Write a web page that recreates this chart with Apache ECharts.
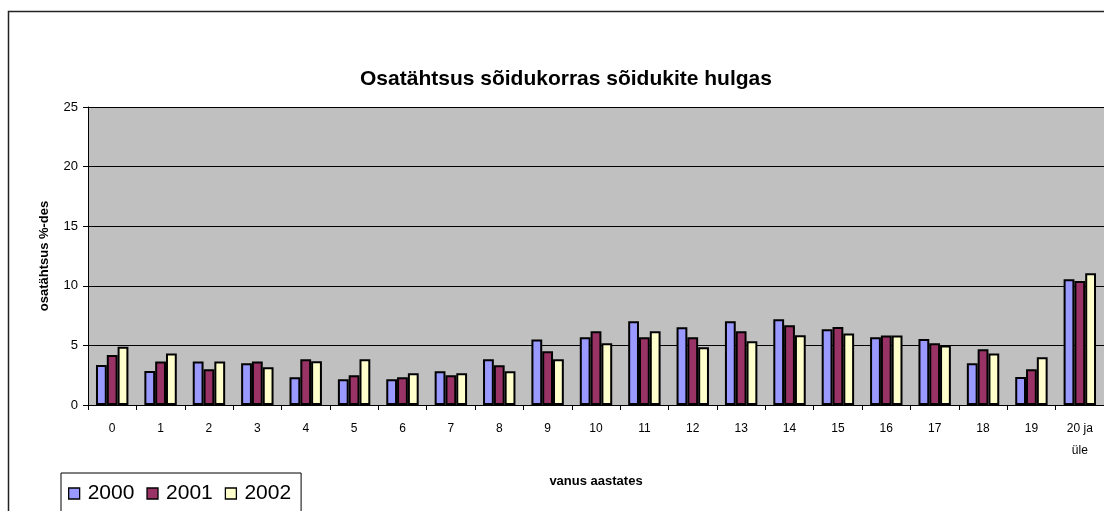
<!DOCTYPE html>
<html>
<head>
<meta charset="utf-8">
<script src="https://cdn.jsdelivr.net/npm/echarts@6/dist/echarts.min.js"></script>
<style>
html,body{margin:0;padding:0;background:#fff;}
#c{width:1104px;height:511px;}
</style>
</head>
<body>
<div id="c"></div>
<script>
const categories = ['0','1','2','3','4','5','6','7','8','9','10','11','12','13','14','15','16','17','18','19','20 ja\nüle'];
const years = ['2000','2001','2002'];
const s2000 = [3.35, 2.85, 3.65, 3.5, 2.33, 2.15, 2.15, 2.83, 3.83, 5.5, 5.68, 7.02, 6.52, 7.02, 7.2, 6.35, 5.68, 5.53, 3.5, 2.35, 10.55];
const s2001 = [4.2, 3.65, 3.0, 3.65, 3.83, 2.5, 2.33, 2.5, 3.33, 4.5, 6.18, 5.68, 5.68, 6.18, 6.68, 6.54, 5.84, 5.17, 4.67, 3.0, 10.4];
const s2002 = [4.88, 4.33, 3.65, 3.16, 3.66, 3.83, 2.66, 2.66, 2.83, 3.83, 5.17, 6.18, 4.84, 5.34, 5.85, 6.0, 5.84, 5.0, 4.33, 4.0, 11.05];
const yTicks = [0, 5, 10, 15, 20, 25];
const colors = ['#9999FF', '#993366', '#FFFFCC'];
const FONT = 'Liberation Sans, Arial, sans-serif';

const chart = echarts.init(document.getElementById('c'), null, {renderer: 'canvas'});
const seriesData = [s2000, s2001, s2002];

chart.setOption({
  animation: false,
  backgroundColor: '#ffffff',
  textStyle: {fontFamily: FONT, color: '#000'},
  title: {
    text: 'Osatähtsus sõidukorras sõidukite hulgas',
    left: 561, top: 64, textAlign: 'center',
    textStyle: {fontFamily: FONT, fontSize: 21, fontWeight: 'bold', color: '#000'}
  },
  graphic: [{
    type: 'rect', z: -1,
    shape: {x: 8.5, y: 11.5, width: 1200, height: 600},
    style: {fill: 'none', stroke: '#222', lineWidth: 1.5}
  }],
  legend: {
    data: years,
    left: 61, top: 473,
    orient: 'horizontal',
    padding: [10, 10, 12, 7],
    borderColor: '#000', borderWidth: 1,
    backgroundColor: '#fff',
    itemWidth: 11, itemHeight: 11, itemGap: 12,
    icon: 'rect',
    itemStyle: {borderColor: '#000', borderWidth: 1.3},
    textStyle: {fontFamily: FONT, fontSize: 21, color: '#000', padding: [0, 0, 0, 3]}
  },
  grid: {
    left: 88, top: 107, bottom: 106, right: -11,
    show: true, backgroundColor: '#C0C0C0', borderWidth: 0
  },
  xAxis: {
    type: 'category',
    data: categories,
    name: 'vanus aastates',
    nameLocation: 'middle',
    nameGap: 70,
    nameTextStyle: {fontFamily: FONT, fontSize: 13, fontWeight: 'bold', color: '#000'},
    axisLine: {show: true, lineStyle: {color: '#000', width: 1}},
    axisTick: {show: true, length: 5, lineStyle: {color: '#000'}},
    axisLabel: {fontFamily: FONT, fontSize: 12, color: '#000', margin: 13, lineHeight: 22, interval: 0},
    splitLine: {show: false}
  },
  yAxis: {
    type: 'value',
    min: yTicks[0], max: yTicks[yTicks.length - 1], interval: 5,
    name: 'osatähtsus %-des',
    nameLocation: 'middle',
    nameRotate: 90,
    nameGap: 37,
    nameTextStyle: {fontFamily: FONT, fontSize: 13, fontWeight: 'bold', color: '#000'},
    axisLine: {show: true, lineStyle: {color: '#000', width: 1}},
    axisTick: {show: true, length: 5, lineStyle: {color: '#000'}},
    axisLabel: {fontFamily: FONT, fontSize: 13, color: '#000', margin: 10},
    splitLine: {show: true, lineStyle: {color: '#000', width: 1}}
  },
  series: years.map((y, i) => ({
    name: y,
    type: 'bar',
    data: seriesData[i],
    barGap: '0%',
    barCategoryGap: '33%',
    itemStyle: {color: colors[i], borderColor: '#000', borderWidth: 2}
  }))
});
</script>
</body>
</html>
